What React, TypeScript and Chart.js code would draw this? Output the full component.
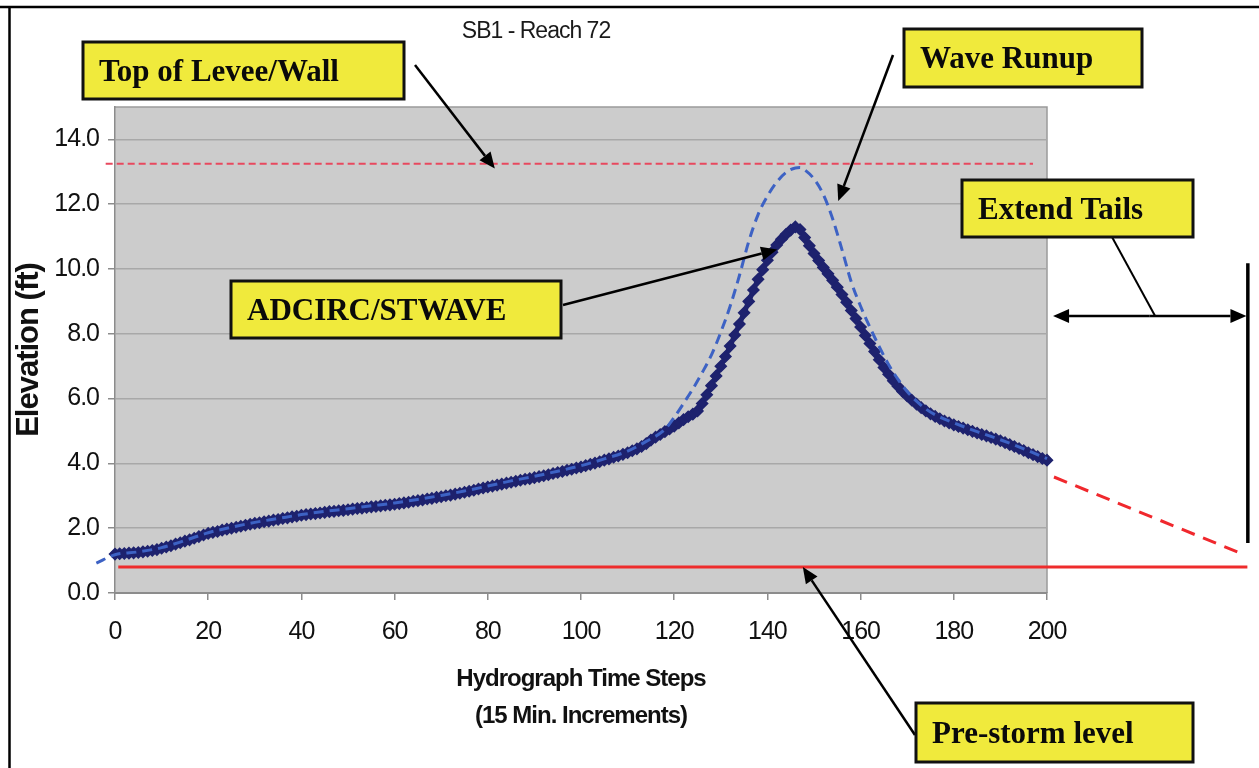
import React, { useEffect, useRef } from "react";
import { Chart, registerables } from "chart.js";

Chart.register(...registerables);

// ---------- data ----------
const chartTitle = "SB1 - Reach 72";
const xTitle = ["Hydrograph Time Steps", "(15 Min. Increments)"];
const yTitle = "Elevation (ft)";

// ADCIRC/STWAVE elevation at every time step 0..200
const adcircElev = [
  1.2, 1.21, 1.22, 1.23, 1.24, 1.25, 1.27, 1.29, 1.31, 1.34,
  1.38, 1.42, 1.46, 1.51, 1.55, 1.6, 1.64, 1.69, 1.74, 1.79,
  1.84, 1.87, 1.9, 1.94, 1.97, 2.0, 2.03, 2.06, 2.09, 2.12,
  2.15, 2.17, 2.2, 2.22, 2.25, 2.27, 2.3, 2.32, 2.35, 2.37,
  2.4, 2.42, 2.44, 2.45, 2.47, 2.49, 2.51, 2.52, 2.54, 2.55,
  2.57, 2.59, 2.61, 2.62, 2.64, 2.66, 2.67, 2.69, 2.71, 2.72,
  2.74, 2.76, 2.78, 2.8, 2.83, 2.85, 2.87, 2.9, 2.92, 2.95,
  2.97, 3.0, 3.02, 3.05, 3.08, 3.11, 3.14, 3.17, 3.21, 3.24,
  3.27, 3.3, 3.33, 3.36, 3.39, 3.42, 3.45, 3.48, 3.51, 3.53,
  3.56, 3.59, 3.62, 3.65, 3.69, 3.72, 3.75, 3.79, 3.82, 3.86,
  3.89, 3.93, 3.97, 4.01, 4.05, 4.1, 4.14, 4.19, 4.23, 4.28,
  4.33, 4.39, 4.45, 4.52, 4.61, 4.72, 4.81, 4.89, 4.98, 5.06,
  5.15, 5.25, 5.35, 5.44, 5.52, 5.62, 5.85, 6.12, 6.4, 6.7,
  7.0, 7.3, 7.62, 7.96, 8.3, 8.65, 9.0, 9.35, 9.68, 9.98,
  10.27, 10.52, 10.74, 10.92, 11.07, 11.2, 11.3, 11.22, 10.97, 10.72,
  10.48, 10.26, 10.05, 9.85, 9.65, 9.44, 9.21, 8.97, 8.72, 8.47,
  8.21, 7.95, 7.7, 7.45, 7.2, 6.96, 6.75, 6.55, 6.38, 6.22,
  6.08, 5.95, 5.83, 5.72, 5.62, 5.53, 5.45, 5.38, 5.31, 5.25,
  5.19, 5.14, 5.09, 5.04, 4.99, 4.94, 4.89, 4.85, 4.8, 4.75,
  4.7, 4.64, 4.58, 4.52, 4.46, 4.4, 4.33, 4.27, 4.21, 4.15,
  4.1,
];

// Wave runup (dashed blue)
const runupSteps = [
  -4, 0, 5, 10, 15, 20, 25, 30, 35, 40,
  45, 50, 55, 60, 65, 70, 75, 80, 85, 90,
  95, 100, 105, 110, 114, 118, 120, 122, 124, 126,
  128, 130, 132, 134, 136, 138, 140, 142, 144, 146,
  147, 148, 150, 152, 154, 156, 158, 160, 162, 164,
  166, 168, 170, 172, 174, 176, 178, 180, 185, 190,
  195, 200,
];
const runupElev = [
  0.92, 1.18, 1.27, 1.4, 1.62, 1.86, 2.03, 2.18, 2.3, 2.42,
  2.52, 2.6, 2.69, 2.78, 2.89, 3.01, 3.15, 3.3, 3.46, 3.6,
  3.76, 3.93, 4.14, 4.38, 4.68, 5.05, 5.42, 5.85, 6.3, 6.8,
  7.35, 8.05, 8.85, 9.8, 10.85, 11.68, 12.25, 12.68, 12.98, 13.12,
  13.13, 13.06, 12.78, 12.3, 11.55, 10.6, 9.6, 8.85, 8.2, 7.6,
  7.05, 6.6, 6.22, 5.92, 5.68, 5.5, 5.37, 5.25, 4.98, 4.73,
  4.45, 4.15,
];

// Top of levee / wall (dashed red)
const leveeSteps = [-2, 197];
const leveeElev = [13.25, 13.25];

// Pre-storm level (solid red)
const preStormSteps = [0.7, 243];
const preStormElev = [0.8, 0.8];

// Extended tail (dashed red)
const tailSteps = [201.5, 242];
const tailElev = [3.58, 1.2];

// Extend-tails marker (time step range, elevation)
const extendFrom = 201.3;
const extendTo = 242.8;
const extendElev = 8.55;
const extendBarStep = 243.1;
const extendBarTop = 10.18;
const extendBarBottom = 1.54;

// ---------- annotation callouts ----------
type Callout = {
  text: string;
  box: [number, number, number, number];
  from?: [number, number];
  tip?: [number, number]; // data coords (step, elevation)
};
const callouts: Callout[] = [
  { text: "Top of Levee/Wall", box: [83, 42, 321, 57], from: [415, 65], tip: [81.5, 13.1] },
  { text: "Wave Runup", box: [904, 29, 238, 58], from: [893, 55], tip: [155.2, 12.1] },
  { text: "ADCIRC/STWAVE", box: [231, 281, 330, 57], from: [563, 305], tip: [142.1, 10.6] },
  { text: "Pre-storm level", box: [916, 703, 277, 59], from: [915, 735], tip: [147.6, 0.8] },
  { text: "Extend Tails", box: [962, 180, 231, 57] },
];

function drawArrow(
  ctx: CanvasRenderingContext2D,
  x1: number, y1: number, x2: number, y2: number,
  head = 16, hw = 7, lw = 2.5
) {
  const ang = Math.atan2(y2 - y1, x2 - x1);
  const bx = x2 - head * Math.cos(ang);
  const by = y2 - head * Math.sin(ang);
  ctx.lineWidth = lw;
  ctx.beginPath();
  ctx.moveTo(x1, y1);
  ctx.lineTo(bx, by);
  ctx.stroke();
  ctx.beginPath();
  ctx.moveTo(x2, y2);
  ctx.lineTo(bx + hw * Math.sin(ang), by - hw * Math.cos(ang));
  ctx.lineTo(bx - hw * Math.sin(ang), by + hw * Math.cos(ang));
  ctx.closePath();
  ctx.fill();
}

const decorPlugin = {
  id: "decor",
  beforeDraw(chart: any) {
    const { ctx, chartArea: a } = chart;
    ctx.save();
    ctx.fillStyle = "#FFFFFF";
    ctx.fillRect(0, 0, chart.width, chart.height);
    ctx.fillStyle = "#CCCCCC";
    ctx.fillRect(a.left, a.top, a.right - a.left, a.bottom - a.top);
    ctx.strokeStyle = "#9A9A9A";
    ctx.lineWidth = 1.5;
    ctx.beginPath();
    ctx.moveTo(a.left, a.top);
    ctx.lineTo(a.right, a.top);
    ctx.lineTo(a.right, a.bottom);
    ctx.stroke();
    ctx.restore();
    (ctx as any).letterSpacing = "-1px";
  },
  afterDraw(chart: any) {
    const { ctx } = chart;
    const xs = chart.scales.x;
    const ys = chart.scales.y;
    const px = (v: number) => xs.getPixelForValue(v);
    const py = (v: number) => ys.getPixelForValue(v);
    ctx.save();

    // chart title
    (ctx as any).letterSpacing = "-1px";
    ctx.fillStyle = "#1A1A1A";
    ctx.font = '23px "Liberation Sans", Arial, sans-serif';
    ctx.textAlign = "center";
    ctx.textBaseline = "middle";
    ctx.fillText(chartTitle, 536, 32);
    (ctx as any).letterSpacing = "0px";

    // frame
    ctx.strokeStyle = "#000";
    ctx.lineWidth = 2.5;
    ctx.beginPath();
    ctx.moveTo(0, 7);
    ctx.lineTo(chart.width, 7);
    ctx.moveTo(9.5, 7);
    ctx.lineTo(9.5, chart.height);
    ctx.stroke();

    // extend tails marker
    ctx.strokeStyle = "#000";
    ctx.fillStyle = "#000";
    ctx.lineWidth = 3.5;
    ctx.beginPath();
    ctx.moveTo(px(extendBarStep), py(extendBarTop));
    ctx.lineTo(px(extendBarStep), py(extendBarBottom));
    ctx.stroke();
    const ax1 = px(extendFrom), ax2 = px(extendTo), ay = py(extendElev);
    const mid = (ax1 + ax2) / 2;
    drawArrow(ctx, mid, ay, ax1, ay, 16, 7, 2.5);
    drawArrow(ctx, mid, ay, ax2, ay, 16, 7, 2.5);
    ctx.lineWidth = 2;
    ctx.beginPath();
    ctx.moveTo(1112, 237);
    ctx.lineTo(px(223.2), ay);
    ctx.stroke();

    // callouts
    for (const c of callouts) {
      if (c.from && c.tip) {
        ctx.strokeStyle = "#000";
        ctx.fillStyle = "#000";
        drawArrow(ctx, c.from[0], c.from[1], px(c.tip[0]), py(c.tip[1]), 16, 7, 2.5);
      }
    }
    for (const c of callouts) {
      const [bx, by, bw, bh] = c.box;
      ctx.fillStyle = "#F0EA3C";
      ctx.fillRect(bx, by, bw, bh);
      ctx.strokeStyle = "#111";
      ctx.lineWidth = 3;
      ctx.strokeRect(bx, by, bw, bh);
      ctx.fillStyle = "#0A0A0A";
      ctx.font = 'bold 31px "Liberation Serif", "Times New Roman", serif';
      ctx.textAlign = "left";
      ctx.textBaseline = "alphabetic";
      ctx.fillText(c.text, bx + 16, by + bh / 2 + 10);
    }
    ctx.restore();
  },
};

export default function App() {
  const ref = useRef<HTMLCanvasElement | null>(null);

  useEffect(() => {
    if (!ref.current) return;
    const tickFont = { family: '"Liberation Sans", Arial, sans-serif', size: 25 };
    const chart = new Chart(ref.current, {
      type: "line",
      data: {
        datasets: [
          {
            label: "Wave Runup",
            data: runupSteps.map((x, i) => ({ x, y: runupElev[i] })),
            borderColor: "#3D62C4",
            borderWidth: 3,
            borderDash: [10, 6],
            pointRadius: 0,
            cubicInterpolationMode: "monotone",
            fill: false,
            clip: false as any,
            order: 0,
          },
          {
            label: "ADCIRC/STWAVE",
            data: adcircElev.map((y, i) => ({ x: i, y })),
            borderColor: "#1E226E",
            backgroundColor: "#1E226E",
            borderWidth: 5,
            pointStyle: "rectRot",
            pointRadius: 5.5,
            pointBorderWidth: 1.5,
            pointBackgroundColor: "#1E226E",
            pointBorderColor: "#1E226E",
            tension: 0,
            fill: false,
            clip: false as any,
            order: 1,
          },
          {
            label: "Top of Levee/Wall",
            data: leveeSteps.map((x, i) => ({ x, y: leveeElev[i] })),
            borderColor: "#E8485E",
            borderWidth: 2,
            borderDash: [7, 4],
            pointRadius: 0,
            fill: false,
            clip: false as any,
            order: 2,
          },
          {
            label: "Pre-storm level",
            data: preStormSteps.map((x, i) => ({ x, y: preStormElev[i] })),
            borderColor: "#EE2C2C",
            borderWidth: 3,
            pointRadius: 0,
            fill: false,
            clip: false as any,
            order: 2,
          },
          {
            label: "Extended tail",
            data: tailSteps.map((x, i) => ({ x, y: tailElev[i] })),
            borderColor: "#F0282D",
            borderWidth: 3,
            borderDash: [14, 9],
            pointRadius: 0,
            fill: false,
            clip: false as any,
            order: 2,
          },
        ],
      },
      options: {
        animation: false,
        responsive: false,
        devicePixelRatio: 1,
        layout: { padding: { left: 0, right: 212, top: 107, bottom: 0 } },
        plugins: {
          legend: { display: false },
          tooltip: { enabled: false },
          title: { display: false },
        },
        scales: {
          x: {
            type: "linear",
            min: 0,
            max: 200,
            ticks: {
              stepSize: 20,
              color: "#111",
              font: tickFont,
              padding: 17,
              maxRotation: 0,
              autoSkip: false,
            },
            grid: {
              drawOnChartArea: false,
              drawTicks: true,
              tickLength: 7,
              color: "#8C8C8C",
              lineWidth: 1.5,
            },
            border: { display: true, color: "#8C8C8C", width: 2 },
            title: {
              display: true,
              text: xTitle,
              color: "#111",
              font: { family: '"Liberation Sans", Arial, sans-serif', size: 24, weight: "bold", lineHeight: 1.55 },
              padding: { top: 0, bottom: 33 },
            },
            afterFit: (s: any) => {
              s.height = 175;
            },
          } as any,
          y: {
            type: "linear",
            min: 0,
            max: 15,
            ticks: {
              stepSize: 2,
              includeBounds: false,
              color: "#111",
              font: tickFont,
              padding: 9,
              callback: (v: any) => Number(v).toFixed(1),
            },
            grid: {
              color: "#A8A8A8",
              lineWidth: 1.5,
              tickLength: 7,
              tickColor: "#8C8C8C",
            },
            border: { display: true, color: "#8C8C8C", width: 1.5 },
            title: {
              display: true,
              text: yTitle,
              color: "#111",
              font: { family: '"Liberation Sans", Arial, sans-serif', size: 31, weight: "bold" },
              padding: { top: 11, bottom: 0 },
            },
            afterFit: (s: any) => {
              s.width = 115;
            },
          } as any,
        },
      },
      plugins: [decorPlugin as any],
    });
    return () => chart.destroy();
  }, []);

  return (
    <div style={{ position: "fixed", left: 0, top: 0, width: 1259, height: 768, background: "#fff" }}>
      <canvas ref={ref} width={1259} height={768} style={{ display: "block" }} />
    </div>
  );
}
